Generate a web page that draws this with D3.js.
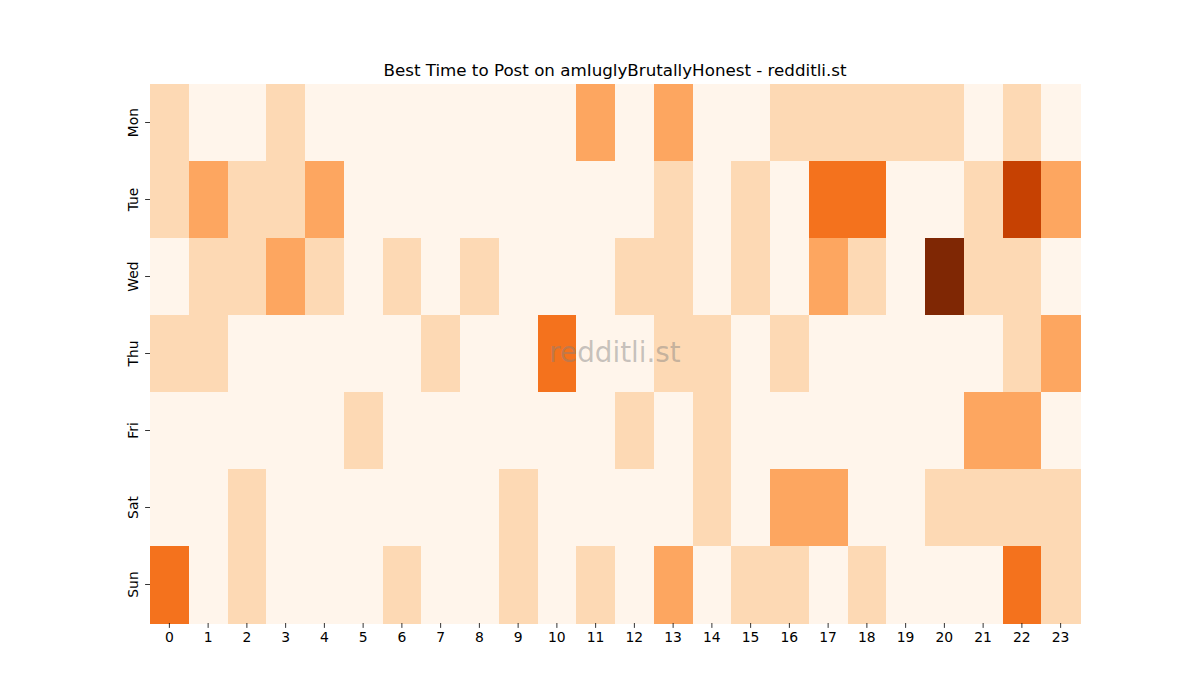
<!DOCTYPE html>
<html><head><meta charset="utf-8">
<script src="https://cdn.jsdelivr.net/npm/d3@7"></script>
<style>body{margin:0;background:#fff}svg{display:block}text{font-family:"DejaVu Sans",sans-serif}</style>
</head><body>
<svg id="c" width="1200" height="700"></svg>
<script>
const days = ["Mon","Tue","Wed","Thu","Fri","Sat","Sun"];
const hours = [0,1,2,3,4,5,6,7,8,9,10,11,12,13,14,15,16,17,18,19,20,21,22,23];
const mon = [1,0,0,1,0,0,0,0,0,0,0,2,0,2,0,0,1,1,1,1,1,0,1,0];
const tue = [1,2,1,1,2,0,0,0,0,0,0,0,0,1,0,1,0,3,3,0,0,1,4,2];
const wed = [0,1,1,2,1,0,1,0,1,0,0,0,1,1,0,1,0,2,1,0,5,1,1,0];
const thu = [1,1,0,0,0,0,0,1,0,0,3,0,0,1,1,0,1,0,0,0,0,0,1,2];
const fri = [0,0,0,0,0,1,0,0,0,0,0,0,1,0,1,0,0,0,0,0,0,2,2,0];
const sat = [0,0,1,0,0,0,0,0,0,1,0,0,0,0,1,0,2,2,0,0,1,1,1,1];
const sun = [3,0,1,0,0,0,1,0,0,1,0,1,0,2,0,1,1,0,1,0,0,0,3,1];
const rows = [mon,tue,wed,thu,fri,sat,sun];
const levelColors = ["#fff5eb","#fdd9b4","#fda660","#f4721d","#c64102","#7f2704"];

const svg = d3.select("#c");
const L=150,R=1080,T=84,B=623;
const x = d3.scaleBand().domain(hours).range([L,R]);
const y = d3.scaleBand().domain(days).range([T,B]);
const color = d3.scaleOrdinal().domain([0,1,2,3,4,5]).range(levelColors);

const cells = [];
rows.forEach((r,i)=>r.forEach((v,j)=>cells.push({d:days[i],h:hours[j],v})));
svg.append("g").selectAll("rect").data(cells).join("rect")
  .attr("x",d=>x(d.h)).attr("y",d=>y(d.d))
  .attr("width",x.bandwidth()+0.5).attr("height",y.bandwidth()+0.5)
  .attr("fill",d=>color(d.v)).attr("shape-rendering","crispEdges");

const xa = svg.append("g").attr("transform",`translate(0,${B})`)
  .call(d3.axisBottom(x).tickSize(4.9).tickPadding(4));
xa.select(".domain").remove();
xa.selectAll("text").attr("font-size","13.9px").attr("fill","#000").attr("font-family","DejaVu Sans");
xa.selectAll("line").attr("stroke","#000").attr("stroke-width",0.8);

const ya = svg.append("g").attr("transform",`translate(${L},0)`)
  .call(d3.axisLeft(y).tickSize(4.9).tickPadding(4));
ya.select(".domain").remove();
ya.selectAll("line").attr("stroke","#000").attr("stroke-width",0.8);
ya.selectAll("text").attr("font-size","13.9px").attr("fill","#000").attr("font-family","DejaVu Sans")
  .attr("x",null).attr("dy",null)
  .attr("text-anchor","middle")
  .attr("transform",`translate(-17,0) rotate(-90)`)
  .attr("dominant-baseline","central");

svg.append("text").attr("x",(L+R)/2).attr("y",76).attr("text-anchor","middle")
  .attr("font-size","16.7px").attr("fill","#000").text("Best Time to Post on amIuglyBrutallyHonest - redditli.st");

svg.append("text").attr("x",(L+R)/2).attr("y",362).attr("text-anchor","middle")
  .attr("font-size","27.8px").attr("fill","#808080").attr("fill-opacity",0.45).text("redditli.st");
</script>
</body></html>
